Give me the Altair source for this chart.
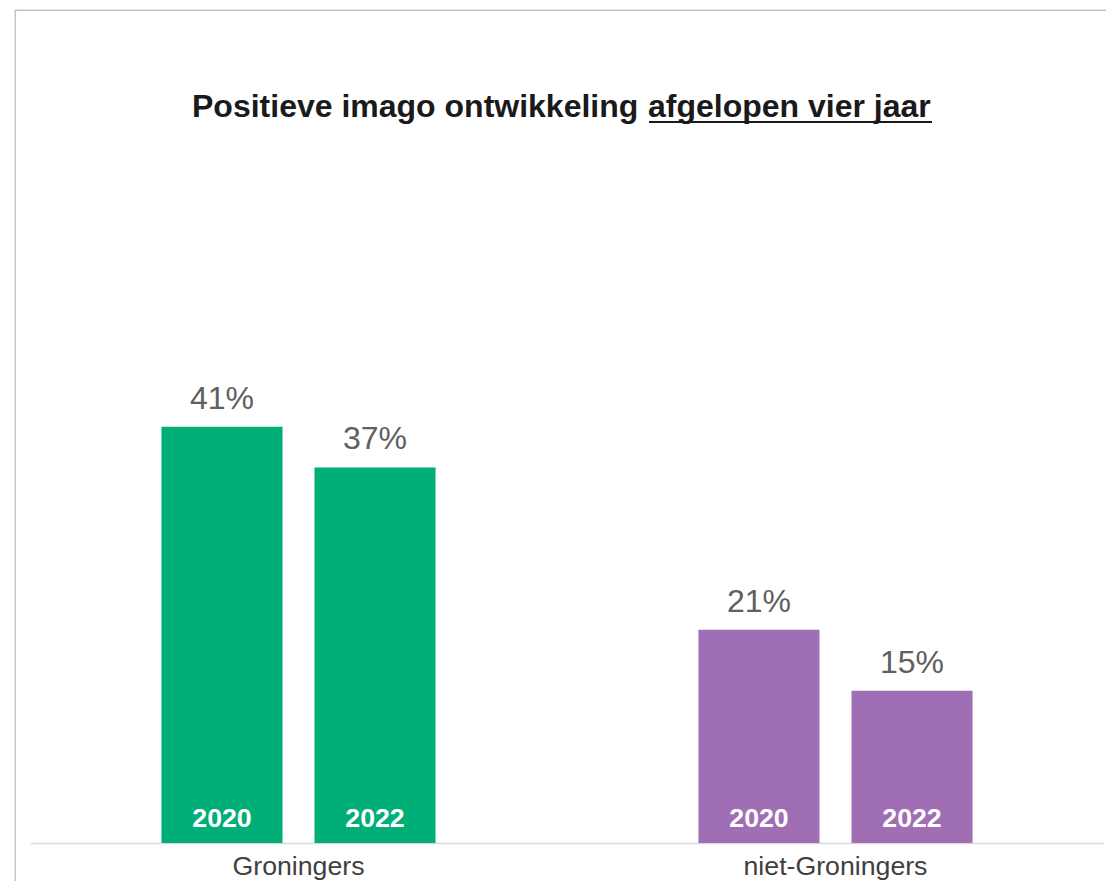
import altair as alt
import pandas as pd

# ---- data ----
groups = ["Groningers", "Groningers", "niet-Groningers", "niet-Groningers"]
years = ["2020", "2022", "2020", "2022"]
values = [41, 37, 21, 15]
group_order = ["Groningers", "niet-Groningers"]
group_colors = ["#00AE78", "#A06EB4"]

title_main = "Positieve imago ontwikkeling"
title_under = "afgelopen vier jaar"

FONT = "Liberation Sans"

df = pd.DataFrame({"groep": groups, "jaar": years, "waarde": values})
df["label"] = [f"{v}%" for v in values]
df["nul"] = 0

base = alt.Chart(df)

x = alt.X(
    "groep:N",
    sort=group_order,
    scale=alt.Scale(paddingInner=0, paddingOuter=0),
    axis=alt.Axis(
        title=None, labelAngle=0, labelFontSize=26.7, labelColor="#404040",
        labelFont=FONT, labelPadding=10, labelLimit=0, ticks=False, tickSize=0,
        domainColor="#d9d9d9", domainWidth=1.5, grid=False,
    ),
)
xo = alt.XOffset("jaar:N", scale=alt.Scale(paddingInner=0.209, paddingOuter=0.859))
y = alt.Y("waarde:Q", scale=alt.Scale(domain=[0, 80], nice=False, zero=True), axis=None)

bars = base.mark_bar().encode(
    x=x, xOffset=xo, y=y,
    color=alt.Color("groep:N", scale=alt.Scale(domain=group_order, range=group_colors), legend=None),
)

pct = base.mark_text(
    baseline="alphabetic", dy=-18, fontSize=32, font=FONT, color="#606060"
).encode(x=x, xOffset=xo, y=y, text="label:N")

yr = base.mark_text(
    baseline="alphabetic", dy=-16, fontSize=26.7, fontWeight="bold", color="white", font=FONT
).encode(x=x, xOffset=xo, y=alt.Y("nul:Q", axis=None), text="jaar:N")

ann = alt.Chart(pd.DataFrame({"t": [0]}))
t1 = ann.mark_text(
    align="left", baseline="alphabetic", fontSize=32, fontWeight="bold", font=FONT, color="#1a1a1a"
).encode(x=alt.value(162), y=alt.value(86), text=alt.value(title_main))
t2 = ann.mark_text(
    align="left", baseline="alphabetic", fontSize=32, fontWeight="bold", font=FONT, color="#1a1a1a"
).encode(x=alt.value(618), y=alt.value(86), text=alt.value(title_under))
underline = ann.mark_rule(color="#1a1a1a", strokeWidth=2).encode(
    x=alt.value(619), x2=alt.value(902), y=alt.value(91)
)
border = ann.mark_rect(filled=False, stroke="#c4c4c4", strokeWidth=1.5).encode(
    x=alt.value(-14.7), y=alt.value(-20.8), x2=alt.value(1300), y2=alt.value(1000)
)

chart = alt.layer(border, bars, pct, yr, t1, t2, underline).properties(
    width=1074, height=812,
    autosize=alt.AutoSizeParams(type="none"),
    padding={"left": 22, "top": 23, "right": 2, "bottom": 38},
).configure_view(stroke=None)

chart.save("out.html", embed_options={"renderer": "svg", "actions": False})
